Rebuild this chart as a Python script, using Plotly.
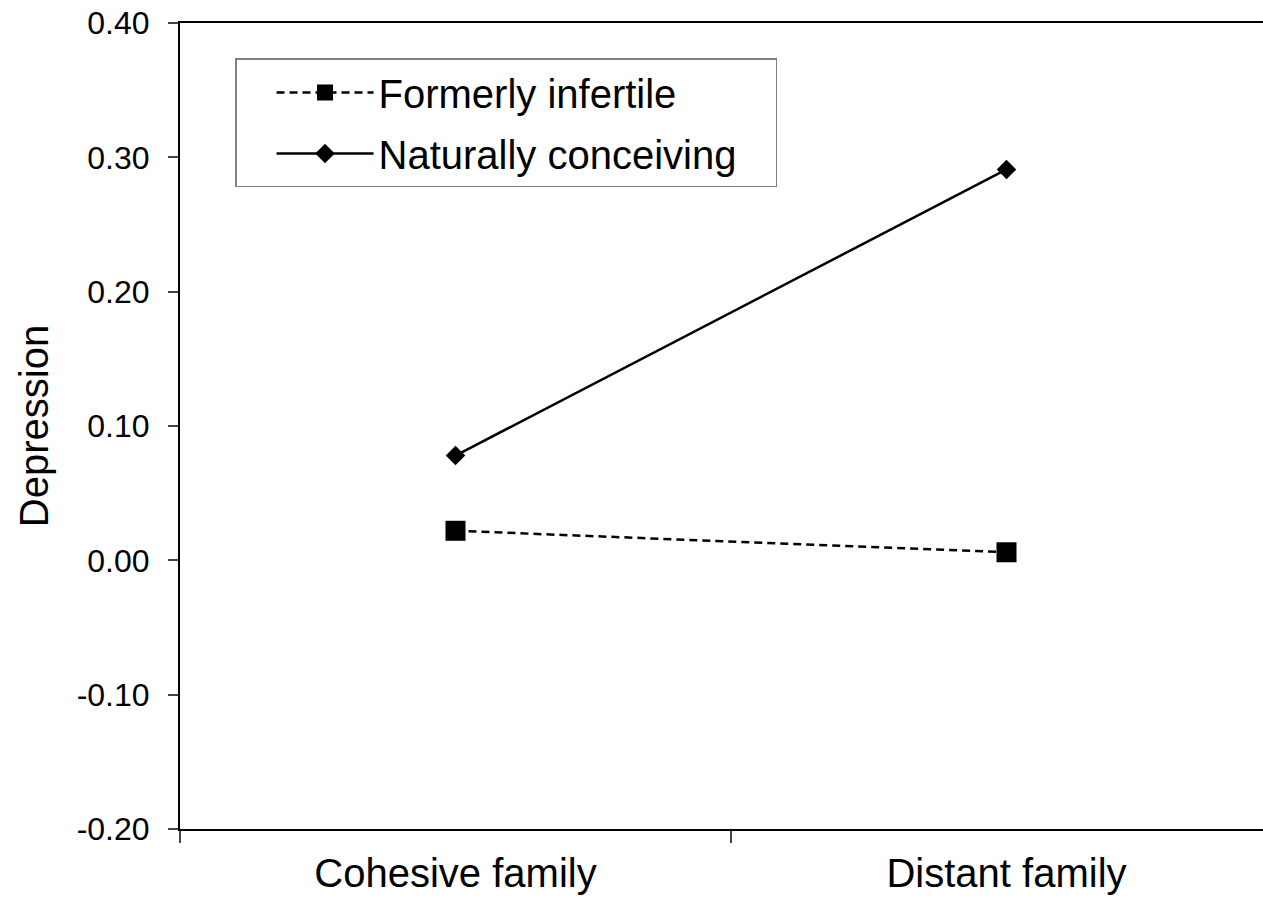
import plotly.graph_objects as go

categories = ["Cohesive family", "Distant family"]
formerly_infertile = [0.022, 0.006]
naturally_conceiving = [0.078, 0.291]
series_names = ["Formerly infertile", "Naturally conceiving"]
y_tickvals = [-0.2, -0.1, 0.0, 0.1, 0.2, 0.3, 0.4]
y_ticktext = ["-0.20", "-0.10", "0.00", "0.10", "0.20", "0.30", "0.40"]

FONT = "Liberation Sans, Arial, sans-serif"
PAD = "\u00a0" * 3  # right padding inside the legend box

fig = go.Figure()
fig.add_trace(go.Scatter(
    x=categories, y=formerly_infertile, name=series_names[0],
    mode="lines+markers", legendgroup="g1",
    line=dict(color="black", width=2.5, dash="8px,5px"),
    marker=dict(symbol="square", size=20, color="black"),
))
fig.add_trace(go.Scatter(
    x=categories, y=naturally_conceiving, name=series_names[1] + PAD,
    mode="lines+markers", legendgroup="g2",
    line=dict(color="black", width=2.5),
    marker=dict(symbol="diamond", size=15, color="black"),
))

fig.update_layout(
    width=1263, height=902,
    margin=dict(l=180, r=0, t=23, b=73),
    paper_bgcolor="white", plot_bgcolor="white",
    font=dict(family=FONT, color="black"),
    showlegend=True,
    legend=dict(
        x=0.0508, y=0.956, xanchor="left", yanchor="top",
        bordercolor="#808080", borderwidth=1.5, bgcolor="white",
        font=dict(size=40, family=FONT, color="black"),
        itemwidth=97, indentation=35, tracegroupgap=6,
    ),
    xaxis=dict(
        type="category", range=[-0.5, 1.4655],
        tickson="boundaries", ticks="outside", ticklen=12,
        tickwidth=1.5, tickcolor="#444",
        showline=True, linecolor="black", linewidth=2, mirror=True,
        showgrid=False, zeroline=False, automargin=False,
        tickfont=dict(size=40, family=FONT, color="black"),
        ticklabelstandoff=8,
    ),
    yaxis=dict(
        range=[-0.2, 0.4], tickvals=y_tickvals, ticktext=y_ticktext,
        ticks="outside", ticklen=10, tickwidth=1.5, tickcolor="#444",
        showline=True, linecolor="black", linewidth=2,
        showgrid=False, zeroline=False, automargin=False,
        tickfont=dict(size=32, family=FONT, color="black"),
        ticklabelstandoff=12, ticklabeloverflow="allow",
        title=dict(text="Depression", font=dict(size=40, family=FONT, color="black"), standoff=16),
    ),
)

fig.write_html("out.html", config={"displayModeBar": False},
               post_script="document.body.style.margin='0';")
